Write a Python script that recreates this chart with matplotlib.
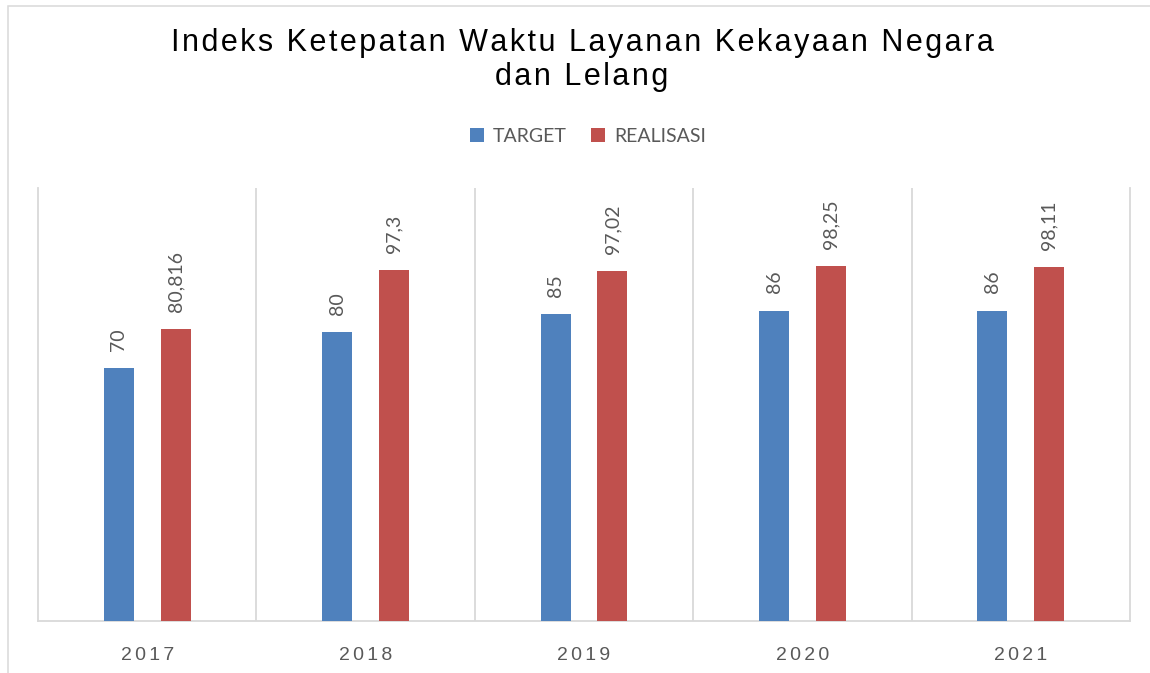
import matplotlib
matplotlib.use("Agg")
import matplotlib.pyplot as plt
from matplotlib.patches import Rectangle
import numpy as np

# data
years = ["2017", "2018", "2019", "2020", "2021"]
target = [70, 80, 85, 86, 86]
realisasi = [80.816, 97.3, 97.02, 98.25, 98.11]
target_labels = ["70", "80", "85", "86", "86"]
realisasi_labels = ["80,816", "97,3", "97,02", "98,25", "98,11"]

C_BLUE = "#4f81bd"
C_RED = "#c0504d"
GRID = "#d9d9d9"
TXT = "#595959"
HAIR = "\u200a"


def spaced(s, sep=HAIR):
    return sep.join(s)


W, H = 1150, 673
fig = plt.figure(figsize=(W / 100, H / 100), dpi=100)
fig.patch.set_facecolor("white")

# outer chart border (left + top visible)
fig.patches.append(Rectangle((7.5 / W, -0.1), 1.2, 1 - 6.5 / H + 0.1,
                             transform=fig.transFigure, fill=False,
                             edgecolor=GRID, linewidth=1.1))

ax = fig.add_axes([38 / W, 1 - 621 / H, (1130 - 38) / W, (621 - 188) / H])
x = np.arange(len(years))
off, bw = 0.13, 0.137
b1 = ax.bar(x - off, target, width=bw, color=C_BLUE, label="TARGET", zorder=3)
b2 = ax.bar(x + off, realisasi, width=bw, color=C_RED, label="REALISASI", zorder=3)

for bars, labs in ((b1, target_labels), (b2, realisasi_labels)):
    for b, lab in zip(bars, labs):
        ax.annotate(lab, (b.get_x() + b.get_width() / 2, b.get_height()),
                    xytext=(0, 12.5), textcoords="offset points",
                    rotation=90, ha="center", va="bottom",
                    fontsize=14, color=TXT, family=["Lato", "DejaVu Sans"])

ax.set_xlim(-0.5, len(years) - 0.5)
ax.set_ylim(0, 120)
ax.set_yticks([])
ax.set_xticks(x)
ax.set_xticklabels([spaced(y, HAIR * 2) for y in years], fontsize=14, color=TXT,
                   family=["Liberation Sans", "DejaVu Sans"])
ax.tick_params(axis="x", length=0, pad=19)
ax.spines["top"].set_visible(False)
for s in ("left", "right", "bottom"):
    ax.spines[s].set_color(GRID)
    ax.spines[s].set_linewidth(1.3)
for b in np.arange(0.5, len(years) - 0.5, 1.0):
    ax.axvline(b, color=GRID, linewidth=1.3, zorder=1)

fig.legend(loc="center", bbox_to_anchor=(588 / W, 1 - 136 / H), ncol=2,
           frameon=False, handlelength=0.72, handleheight=0.72,
           handletextpad=0.46, columnspacing=1.24,
           prop={"family": ["Lato", "DejaVu Sans"], "size": 14},
           labelcolor=TXT)

fig.text(582 / W, 1 - 60 / H,
         spaced("Indeks Ketepatan Waktu Layanan Kekayaan Negara") + "\n" + spaced("dan Lelang"),
         ha="center", va="center", fontsize=22, linespacing=1.17,
         family=["Liberation Sans", "DejaVu Sans"], color="#000000")

fig.savefig("out.png", dpi=100, facecolor="white")
